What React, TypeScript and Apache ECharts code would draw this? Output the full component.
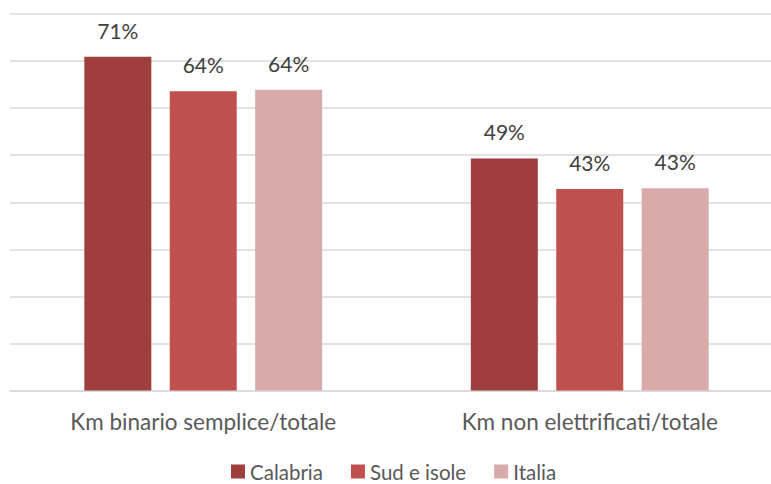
import React, { useEffect, useRef } from "react";
import * as echarts from "echarts";

const categories = ["Km binario semplice/totale", "Km non elettrificati/totale"];
const seriesNames = ["Calabria", "Sud e isole", "Italia"];
const calabria = [70.9, 49.3];
const sudIsole = [63.6, 42.8];
const italia = [63.9, 43.0];
const colors = ["#9E3F3E", "#C0504D", "#D9AAAA"];

export default function App() {
  const ref = useRef<HTMLDivElement>(null);
  useEffect(() => {
    if (!ref.current) return;
    const chart = echarts.init(ref.current, undefined, { renderer: "svg" });
    const values = [calabria, sudIsole, italia];
    chart.setOption({
      animation: false,
      textStyle: { fontFamily: "Lato" },
      grid: { left: 10, top: 14, width: 773, bottom: 93.5, outerBoundsMode: "none", containLabel: false },
      legend: {
        top: 461,
        left: 231,
        padding: 0,
        itemWidth: 14,
        itemHeight: 14,
        itemGap: 28,
        icon: "rect",
        textStyle: { color: "#595959", fontSize: 20.5, lineHeight: 20, fontFamily: "Lato", padding: [0, 0, 0, 0] },
        data: seriesNames,
      },
      xAxis: {
        type: "category",
        data: categories,
        axisTick: { show: false },
        axisLine: { show: true, lineStyle: { color: "#D9D9D9", width: 1.5 } },
        axisLabel: { color: "#595959", fontSize: 22.5, margin: 19, fontFamily: "Lato" },
      },
      yAxis: {
        type: "value",
        min: 0,
        max: 80,
        interval: 10,
        axisLabel: { show: false },
        axisLine: { show: false },
        axisTick: { show: false },
        splitLine: { lineStyle: { color: "#D9D9D9", width: 1.5 } },
      },
      series: seriesNames.map((name, i) => ({
        name,
        type: "bar",
        data: values[i],
        barWidth: 67,
        barGap: "27.5%",
        itemStyle: { color: colors[i] },
        label: {
          show: true,
          position: "top",
          distance: 16,
          color: "#404040",
          fontSize: 21,
          fontFamily: "Lato",
          formatter: (p: any) => Math.round(p.value) + "%",
        },
      })),
    });
    return () => chart.dispose();
  }, []);
  return (
    <div
      ref={ref}
      style={{ position: "absolute", left: 0, top: 0, width: 771, height: 484 }}
    />
  );
}
